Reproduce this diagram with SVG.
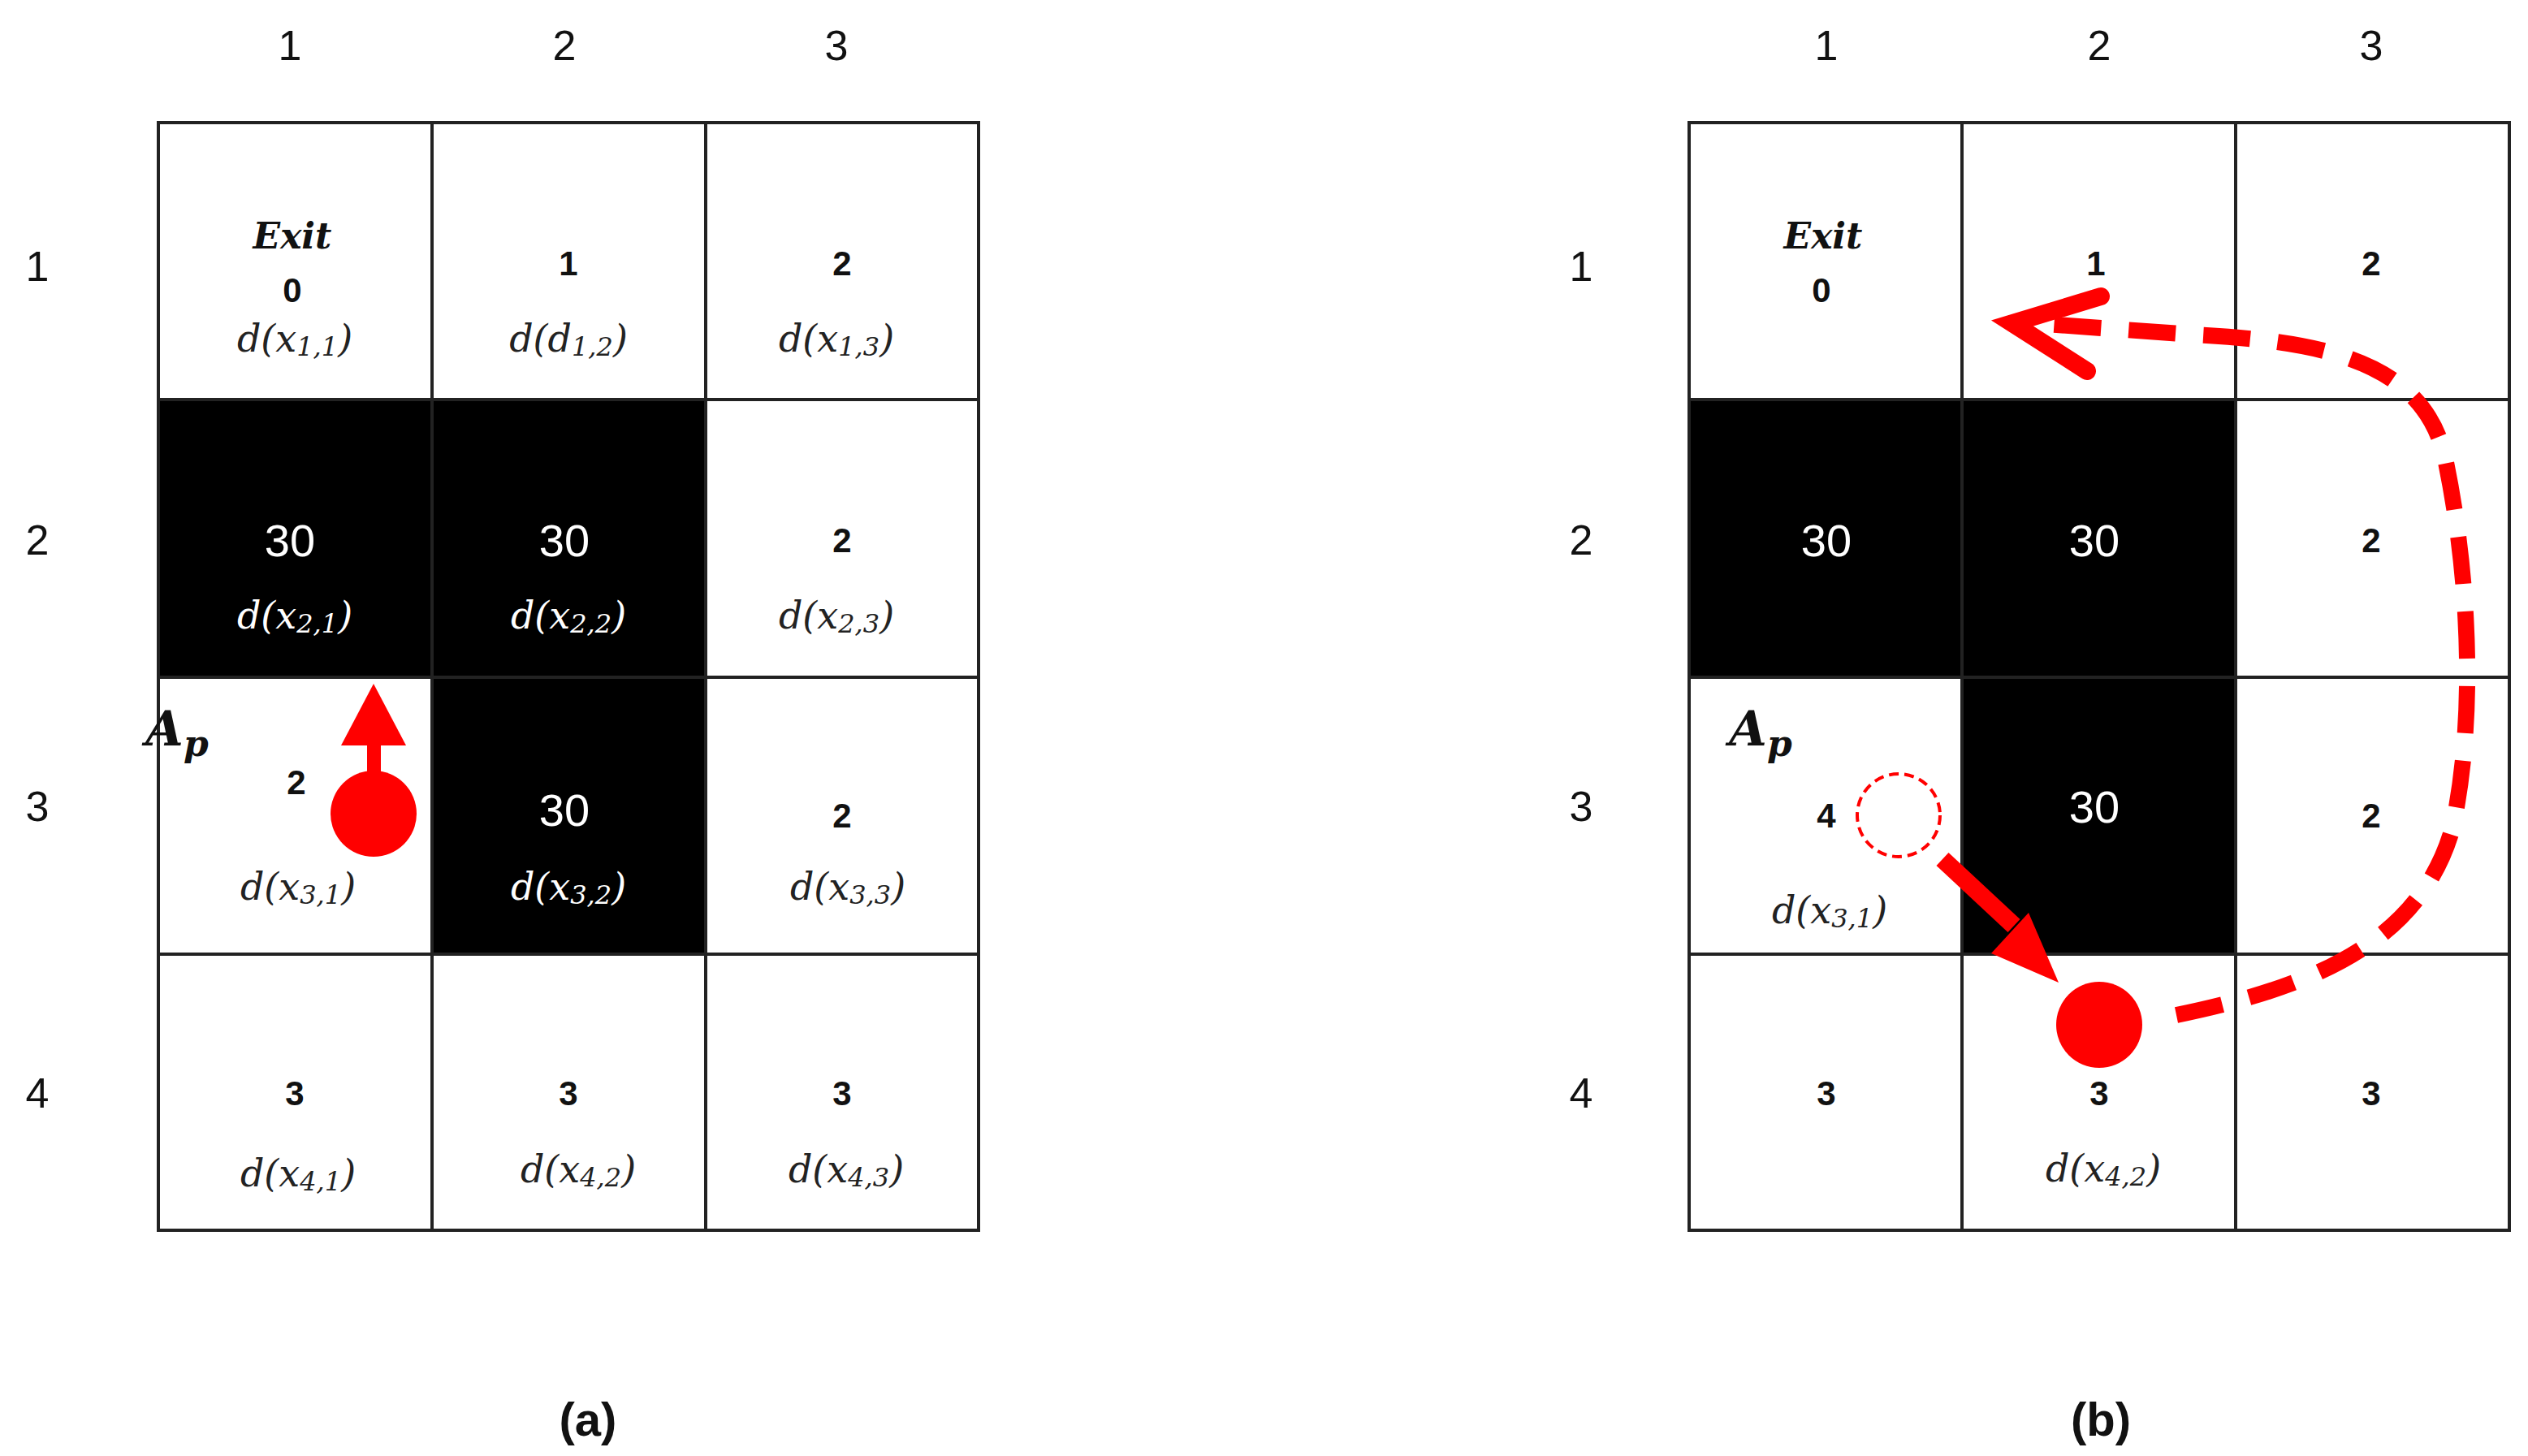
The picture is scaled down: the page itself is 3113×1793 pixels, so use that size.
<svg xmlns="http://www.w3.org/2000/svg" width="3113" height="1793" viewBox="0 0 3113 1793">
<style>
.c{fill:#fff;stroke:#222;stroke-width:4}
.k{fill:#000;stroke:#222;stroke-width:4}
.lab{font-family:"Liberation Sans",Arial,sans-serif;font-size:52px;fill:#111;text-anchor:middle;dominant-baseline:central}
.n{font-family:"Liberation Sans",Arial,sans-serif;font-size:42px;font-weight:bold;fill:#111;text-anchor:middle;dominant-baseline:central}
.w{font-family:"Liberation Sans",Arial,sans-serif;font-size:56px;fill:#fff;text-anchor:middle;dominant-baseline:central}
.d{font-family:"DejaVu Serif","Liberation Serif",serif;font-style:italic;font-size:46px;fill:#222;text-anchor:middle;dominant-baseline:central}
.dw{font-family:"DejaVu Serif","Liberation Serif",serif;font-style:italic;font-size:46px;fill:#fff;text-anchor:middle;dominant-baseline:central}
.ex{font-family:"DejaVu Serif","Liberation Serif",serif;font-style:italic;font-weight:bold;font-size:44px;fill:#111;text-anchor:middle;dominant-baseline:central}
.ap{font-family:"DejaVu Serif","Liberation Serif",serif;font-style:italic;font-weight:bold;font-size:60px;fill:#111;text-anchor:middle;dominant-baseline:central}
.cap{font-family:"Liberation Sans",Arial,sans-serif;font-size:58px;font-weight:bold;fill:#111;text-anchor:middle;dominant-baseline:central}
</style>
<rect width="3113" height="1793" fill="#fff"/>
<g id="labels">
<text class="lab" x="357" y="56">1</text><text class="lab" x="695" y="56">2</text><text class="lab" x="1030" y="56">3</text>
<text class="lab" x="46" y="328">1</text><text class="lab" x="46" y="665">2</text><text class="lab" x="46" y="993">3</text><text class="lab" x="46" y="1346">4</text>
<text class="lab" x="2249" y="56">1</text><text class="lab" x="2585" y="56">2</text><text class="lab" x="2920" y="56">3</text>
<text class="lab" x="1947" y="328">1</text><text class="lab" x="1947" y="665">2</text><text class="lab" x="1947" y="993">3</text><text class="lab" x="1947" y="1346">4</text>
<text class="cap" x="724" y="1747">(a)</text><text class="cap" x="2587" y="1747">(b)</text>
</g>
<g id="gridA">
<rect class="c" x="195" y="151" width="337" height="341"/>
<rect class="c" x="532" y="151" width="337" height="341"/>
<rect class="c" x="869" y="151" width="336" height="341"/>
<rect class="k" x="195" y="492" width="337" height="342"/>
<rect class="k" x="532" y="492" width="337" height="342"/>
<rect class="c" x="869" y="492" width="336" height="342"/>
<rect class="c" x="195" y="834" width="337" height="341"/>
<rect class="k" x="532" y="834" width="337" height="341"/>
<rect class="c" x="869" y="834" width="336" height="341"/>
<rect class="c" x="195" y="1175" width="337" height="340"/>
<rect class="c" x="532" y="1175" width="337" height="340"/>
<rect class="c" x="869" y="1175" width="336" height="340"/>
<text class="ex" x="360" y="290">Exit</text><text class="n" x="360" y="357">0</text><text class="d" x="363" y="417">d(x<tspan font-size="32" dy="10">1,1</tspan><tspan dy="-10">)</tspan></text>
<text class="n" x="700" y="324">1</text><text class="d" x="700" y="417">d(d<tspan font-size="32" dy="10">1,2</tspan><tspan dy="-10">)</tspan></text>
<text class="n" x="1037" y="324">2</text><text class="d" x="1030" y="417">d(x<tspan font-size="32" dy="10">1,3</tspan><tspan dy="-10">)</tspan></text>
<text class="w" x="357" y="665">30</text><text class="dw" x="363" y="758">d(x<tspan font-size="32" dy="10">2,1</tspan><tspan dy="-10">)</tspan></text>
<text class="w" x="695" y="665">30</text><text class="dw" x="700" y="758">d(x<tspan font-size="32" dy="10">2,2</tspan><tspan dy="-10">)</tspan></text>
<text class="n" x="1037" y="665">2</text><text class="d" x="1030" y="758">d(x<tspan font-size="32" dy="10">2,3</tspan><tspan dy="-10">)</tspan></text>
<text class="ap" x="218" y="897">A<tspan font-size="44" dy="18">p</tspan></text>
<text class="n" x="365" y="963" font-size="52">2</text>
<text class="d" x="367" y="1092">d(x<tspan font-size="32" dy="10">3,1</tspan><tspan dy="-10">)</tspan></text>
<text class="w" x="695" y="997">30</text><text class="dw" x="700" y="1092">d(x<tspan font-size="32" dy="10">3,2</tspan><tspan dy="-10">)</tspan></text>
<text class="n" x="1037" y="1004">2</text><text class="d" x="1044" y="1092">d(x<tspan font-size="32" dy="10">3,3</tspan><tspan dy="-10">)</tspan></text>
<text class="n" x="363" y="1346">3</text><text class="d" x="367" y="1445">d(x<tspan font-size="32" dy="10">4,1</tspan><tspan dy="-10">)</tspan></text>
<text class="n" x="700" y="1346">3</text><text class="d" x="712" y="1440">d(x<tspan font-size="32" dy="10">4,2</tspan><tspan dy="-10">)</tspan></text>
<text class="n" x="1037" y="1346">3</text><text class="d" x="1042" y="1440">d(x<tspan font-size="32" dy="10">4,3</tspan><tspan dy="-10">)</tspan></text>
</g>
<g id="gridB">
<rect class="c" x="2080" y="151" width="336" height="341"/>
<rect class="c" x="2416" y="151" width="337" height="341"/>
<rect class="c" x="2753" y="151" width="337" height="341"/>
<rect class="k" x="2080" y="492" width="336" height="342"/>
<rect class="k" x="2416" y="492" width="337" height="342"/>
<rect class="c" x="2753" y="492" width="337" height="342"/>
<rect class="c" x="2080" y="834" width="336" height="341"/>
<rect class="k" x="2416" y="834" width="337" height="341"/>
<rect class="c" x="2753" y="834" width="337" height="341"/>
<rect class="c" x="2080" y="1175" width="336" height="340"/>
<rect class="c" x="2416" y="1175" width="337" height="340"/>
<rect class="c" x="2753" y="1175" width="337" height="340"/>
<text class="ex" x="2245" y="290">Exit</text><text class="n" x="2243" y="357">0</text>
<text class="n" x="2581" y="324">1</text><text class="n" x="2920" y="324">2</text>
<text class="w" x="2249" y="665">30</text><text class="w" x="2579" y="665">30</text><text class="n" x="2920" y="665">2</text>
<text class="ap" x="2168" y="897">A<tspan font-size="44" dy="18">p</tspan></text>
<text class="n" x="2249" y="1004" font-size="52">4</text>
<text class="w" x="2579" y="993">30</text><text class="n" x="2920" y="1004">2</text>
<text class="d" x="2253" y="1121">d(x<tspan font-size="32" dy="10">3,1</tspan><tspan dy="-10">)</tspan></text>
<text class="n" x="2249" y="1346">3</text><text class="n" x="2585" y="1346">3</text><text class="n" x="2920" y="1346">3</text>
<text class="d" x="2590" y="1439">d(x<tspan font-size="32" dy="10">4,2</tspan><tspan dy="-10">)</tspan></text>
</g>
<g id="connectors">
<circle cx="460" cy="1002" r="53" fill="#f00"/>
<rect x="452" y="910" width="17" height="50" fill="#f00"/>
<polygon points="460,842 500,918 420,918" fill="#f00"/>
<circle cx="2338" cy="1004" r="51" fill="none" stroke="#f00" stroke-width="4" stroke-dasharray="12 7"/>
<line x1="2392" y1="1058" x2="2480" y2="1140" stroke="#f00" stroke-width="22"/>
<polygon points="2535,1210 2452,1174 2498,1124" fill="#f00"/>
<circle cx="2585" cy="1262" r="53" fill="#f00"/>
<path d="M2680,1250 C2850,1215 2980,1160 3020,1020 C3050,880 3040,700 3010,560 C2980,440 2850,420 2700,412 L2490,397" fill="none" stroke="#f00" stroke-width="20" stroke-dasharray="58 34"/>
<polyline points="2587,365 2478,398 2570,457" fill="none" stroke="#f00" stroke-width="22" stroke-linecap="round" stroke-linejoin="miter"/>
</g>
</svg>
